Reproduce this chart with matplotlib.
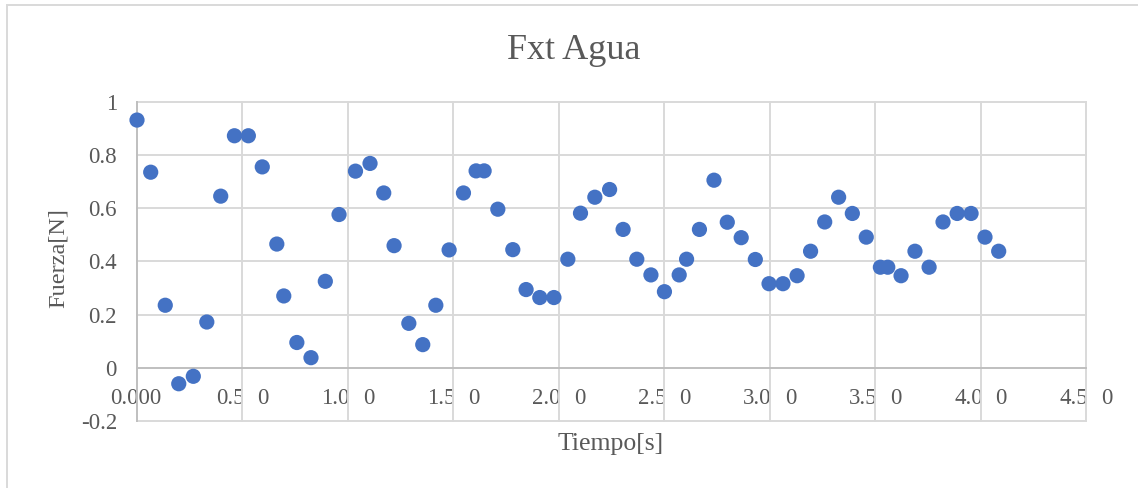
import matplotlib
matplotlib.use("Agg")
import matplotlib.pyplot as plt
from matplotlib.patches import Rectangle
from matplotlib.transforms import offset_copy

plt.rcParams["font.family"] = ["Liberation Serif", "DejaVu Serif"]

# ---- data ----
time_s = [0.000, 0.065, 0.134, 0.198, 0.267, 0.331, 0.397, 0.462, 0.528, 0.594,
          0.663, 0.696, 0.758, 0.825, 0.893, 0.958, 1.036, 1.105, 1.170, 1.219,
          1.289, 1.355, 1.417, 1.480, 1.548, 1.608, 1.646, 1.711, 1.782, 1.845,
          1.910, 1.977, 2.043, 2.103, 2.171, 2.241, 2.305, 2.370, 2.437, 2.501,
          2.571, 2.606, 2.667, 2.736, 2.799, 2.865, 2.932, 2.997, 3.063, 3.130,
          3.194, 3.261, 3.327, 3.392, 3.458, 3.525, 3.560, 3.623, 3.689, 3.756,
          3.822, 3.889, 3.955, 4.021, 4.086]
force_n = [0.931, 0.735, 0.235, -0.060, -0.032, 0.172, 0.645, 0.872, 0.872, 0.755,
           0.465, 0.270, 0.095, 0.038, 0.325, 0.576, 0.739, 0.768, 0.657, 0.459,
           0.167, 0.087, 0.235, 0.443, 0.657, 0.740, 0.740, 0.596, 0.444, 0.294,
           0.264, 0.264, 0.408, 0.581, 0.641, 0.670, 0.520, 0.408, 0.349, 0.286,
           0.349, 0.408, 0.520, 0.705, 0.547, 0.489, 0.407, 0.316, 0.316, 0.346,
           0.438, 0.548, 0.641, 0.580, 0.491, 0.378, 0.378, 0.346, 0.438, 0.378,
           0.548, 0.580, 0.580, 0.491, 0.438]
x_ticks = [0.0, 0.5, 1.0, 1.5, 2.0, 2.5, 3.0, 3.5, 4.0, 4.5]
y_ticks = [-0.2, 0.0, 0.2, 0.4, 0.6, 0.8, 1.0]
y_tick_labels = ["-0.2", "0", "0.2", "0.4", "0.6", "0.8", "1"]
title = "Fxt Agua"
x_title = "Tiempo[s]"
y_title = "Fuerza[N]"

W, H = 1138, 488
TXT = "#595959"
GRID = "#d9d9d9"
AXL = "#bfbfbf"
BLUE = "#4472C4"

fig = plt.figure(figsize=(W / 100, H / 100), dpi=100)
fig.patch.set_facecolor("white")

# chart border (partially cut on right/bottom as in the reference)
fig.patches.append(Rectangle((7 / W, -0.2), 1.2, 1.2 - 5 / H,
                             transform=fig.transFigure, fill=False,
                             edgecolor=GRID, lw=1.4))

ax = fig.add_axes([137 / W, 67 / H, 949 / W, (421 - 101.7) / H])
ax.set_xlim(x_ticks[0], x_ticks[-1])
ax.set_ylim(y_ticks[0], y_ticks[-1])
for s in ax.spines.values():
    s.set_visible(False)
ax.set_facecolor("none")

ax.set_xticks([])
ax.set_yticks(y_ticks)
ax.set_yticklabels(y_tick_labels, fontsize=16.5, color=TXT)
ax.tick_params(axis="y", length=0, pad=14.4)

# gridlines
for v in x_ticks[1:]:
    ax.axvline(v, color=GRID, lw=1.4, zorder=1, clip_on=False)
for h in y_ticks:
    ax.axhline(h, color=AXL if h == 0 else GRID, lw=1.4, zorder=1.1, clip_on=False)
ax.axvline(0, color=AXL, lw=1.4, zorder=1.1, clip_on=False)

# x tick labels (drawn inside the plot area, crossed by gridlines)
yb = -0.1355
for t in x_ticks:
    if t == 0:
        ax.text(t, yb, "0.000", transform=offset_copy(ax.transData, fig=fig, x=-27, y=0, units="dots"),
                ha="left", va="baseline", fontsize=16.5, color=TXT, zorder=0.9)
    else:
        txt = ax.text(t, yb, f"{t:.1f}",
                      transform=offset_copy(ax.transData, fig=fig, x=-26.5, y=0, units="dots"),
                      ha="left", va="baseline", fontsize=16.5, color=TXT, zorder=0.9)
        txt.set_clip_path(Rectangle((t - 0.4, -0.3), 0.4 + 0.003, 0.4, transform=ax.transData))
        txt.set_clip_on(True)
        ax.text(t, yb, "0", transform=offset_copy(ax.transData, fig=fig, x=15, y=0, units="dots"),
                ha="left", va="baseline", fontsize=16.5, color=TXT, zorder=0.9, clip_on=False)

ax.scatter(time_s, force_n, s=120, color=BLUE, edgecolors="none", zorder=3, clip_on=False)

fig.text(574 / W, 1 - 59 / H, title, ha="center", va="baseline", fontsize=26, color=TXT)
fig.text(611 / W, 1 - 450 / H, x_title, ha="center", va="baseline", fontsize=18.5, color=TXT)
fig.text(58.5 / W, 1 - 258 / H, y_title, ha="center", va="center", rotation=90,
         fontsize=17.5, color=TXT)

fig.savefig("out.png", dpi=100, facecolor="white")
